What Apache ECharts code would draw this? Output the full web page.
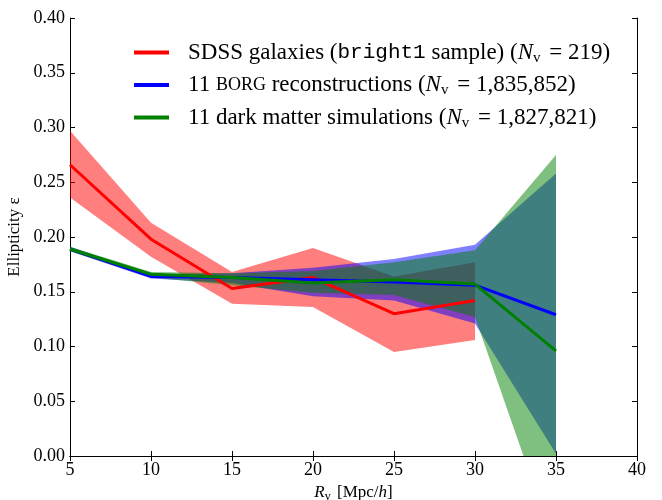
<!DOCTYPE html>
<html>
<head>
<meta charset="utf-8">
<script src="https://cdn.jsdelivr.net/npm/echarts@6/dist/echarts.min.js"></script>
<style>html,body{margin:0;padding:0;background:#fff;}#c{width:662px;height:500px;}</style>
</head>
<body>
<div id="c"></div>
<script>
// Data
const radii = [5, 10, 15, 20, 25, 30, 35];
const sdssMean = [0.266, 0.198, 0.153, 0.163, 0.130, 0.142];
const sdssLow  = [0.236, 0.182, 0.139, 0.136, 0.095, 0.106];
const sdssHigh = [0.297, 0.213, 0.168, 0.190, 0.164, 0.177];
const borgMean = [0.189, 0.164, 0.163, 0.161, 0.159, 0.156, 0.129];
const borgLow  = [0.187, 0.162, 0.158, 0.146, 0.142, 0.121, 0.002];
const borgHigh = [0.191, 0.166, 0.167, 0.172, 0.180, 0.193, 0.258];
const dmMean   = [0.189, 0.166, 0.163, 0.158, 0.161, 0.157, 0.096];
const dmLow    = [0.187, 0.163, 0.156, 0.149, 0.147, 0.127, -0.085];
const dmHigh   = [0.191, 0.168, 0.167, 0.169, 0.177, 0.188, 0.275];
const xTicks = [5, 10, 15, 20, 25, 30, 35, 40];
const yTicks = [0, 0.05, 0.10, 0.15, 0.20, 0.25, 0.30, 0.35, 0.40];
const legendLabels = {
  sdss: '{a|SDSS galaxies (}{m|bright1}{a| sample) (}{i|N}{s|v}{a| = 219)}',
  borg: '{a|11 }{c|BORG}{a| reconstructions (}{i|N}{s|v}{a| = 1,835,852)}',
  dm:   '{a|11 dark matter simulations (}{i|N}{s|v}{a| = 1,827,821)}'
};

const SERIF = '"Liberation Serif", "DejaVu Serif", serif';
const pairs = (ys) => ys.map((y, i) => [radii[i], y]);

function band(lo, hi, color) {
  return {
    type: 'custom', coordinateSystem: 'cartesian2d', clip: true, silent: true, z: 1,
    data: lo.map((l, i) => [radii[i], l, hi[i]]),
    encode: { x: 0, y: [1, 2] },
    renderItem: (params, api) => {
      if (params.dataIndex !== 0) return null;
      const pts = [];
      for (let i = 0; i < lo.length; i++) pts.push(api.coord([radii[i], hi[i]]));
      for (let i = lo.length - 1; i >= 0; i--) pts.push(api.coord([radii[i], lo[i]]));
      return { type: 'polygon', shape: { points: pts }, style: { fill: color, stroke: null } };
    }
  };
}
function line(name, ys, color) {
  return { name: name, type: 'line', data: pairs(ys), symbol: 'none',
    lineStyle: { color: color, width: 3 }, itemStyle: { color: color }, z: 3 };
}

const rich = {
  a: { fontFamily: SERIF, fontSize: 23, color: '#000', lineHeight: 26 },
  m: { fontFamily: '"Liberation Mono", "DejaVu Sans Mono", monospace', fontSize: 21, color: '#000', lineHeight: 26 },
  i: { fontFamily: SERIF, fontSize: 23, fontStyle: 'italic', color: '#000', lineHeight: 26 },
  s: { fontFamily: SERIF, fontSize: 15, color: '#000', lineHeight: 24, verticalAlign: 'bottom', padding: [0, 3, 0, 0] },
  c: { fontFamily: SERIF, fontSize: 18, color: '#000', lineHeight: 26 }
};

const chart = echarts.init(document.getElementById('c'));
const axisLine = { show: true, lineStyle: { color: '#000', width: 1 } };
const tick = { show: true, inside: true, length: 5, lineStyle: { color: '#000' } };
chart.setOption({
  animation: false,
  backgroundColor: '#fff',
  grid: { left: 70, right: 25, top: 18, bottom: 44, outerBoundsMode: 'none', containLabel: false },
  legend: {
    orient: 'vertical', left: 129, top: 36, itemGap: 8,
    itemWidth: 35, itemHeight: 4,
    data: [{ name: 'sdss', icon: 'rect' }, { name: 'borg', icon: 'rect' }, { name: 'dm', icon: 'rect' }],
    formatter: (n) => legendLabels[n],
    textStyle: { rich: rich, padding: [0, 0, 0, 14] },
    selectedMode: false
  },
  xAxis: [
    { type: 'value', min: xTicks[0], max: xTicks[xTicks.length - 1], interval: 5,
      axisLine: axisLine, axisTick: tick, splitLine: { show: false },
      axisLabel: { fontFamily: SERIF, fontSize: 18, color: '#000', margin: 5 },
      name: '{i|R}{s|v}{a| [Mpc/}{i|h}{a|]}', nameLocation: 'middle', nameGap: 22,
      nameTextStyle: { rich: {
        a: { fontFamily: SERIF, fontSize: 17, color: '#000', lineHeight: 20 },
        i: { fontFamily: SERIF, fontSize: 17, fontStyle: 'italic', color: '#000', lineHeight: 20 },
        s: { fontFamily: SERIF, fontSize: 12, color: '#000', lineHeight: 18, verticalAlign: 'bottom', padding: [0, 2, 0, 0] } } } },
    { type: 'value', position: 'top', min: xTicks[0], max: xTicks[xTicks.length - 1], interval: 5,
      axisLine: axisLine, axisTick: tick, axisLabel: { show: false }, splitLine: { show: false } }
  ],
  yAxis: [
    { type: 'value', min: yTicks[0], max: yTicks[yTicks.length - 1], interval: 0.05,
      axisLine: axisLine, axisTick: tick, splitLine: { show: false },
      axisLabel: { fontFamily: SERIF, fontSize: 18, color: '#000', margin: 5, formatter: (v) => v.toFixed(2) },
      name: 'Ellipticity ε', nameLocation: 'middle', nameGap: 42, nameRotate: 90,
      nameTextStyle: { fontFamily: SERIF, fontSize: 17, color: '#000' } },
    { type: 'value', position: 'right', min: yTicks[0], max: yTicks[yTicks.length - 1], interval: 0.05,
      axisLine: axisLine, axisTick: tick, axisLabel: { show: false }, splitLine: { show: false } }
  ],
  series: [
    band(sdssLow, sdssHigh, 'rgba(255,0,0,0.5)'),
    band(borgLow, borgHigh, 'rgba(0,0,255,0.5)'),
    band(dmLow, dmHigh, 'rgba(0,128,0,0.5)'),
    line('sdss', sdssMean, '#ff0000'),
    line('borg', borgMean, '#0000ff'),
    line('dm', dmMean, '#008000')
  ]
});
</script>
</body>
</html>
